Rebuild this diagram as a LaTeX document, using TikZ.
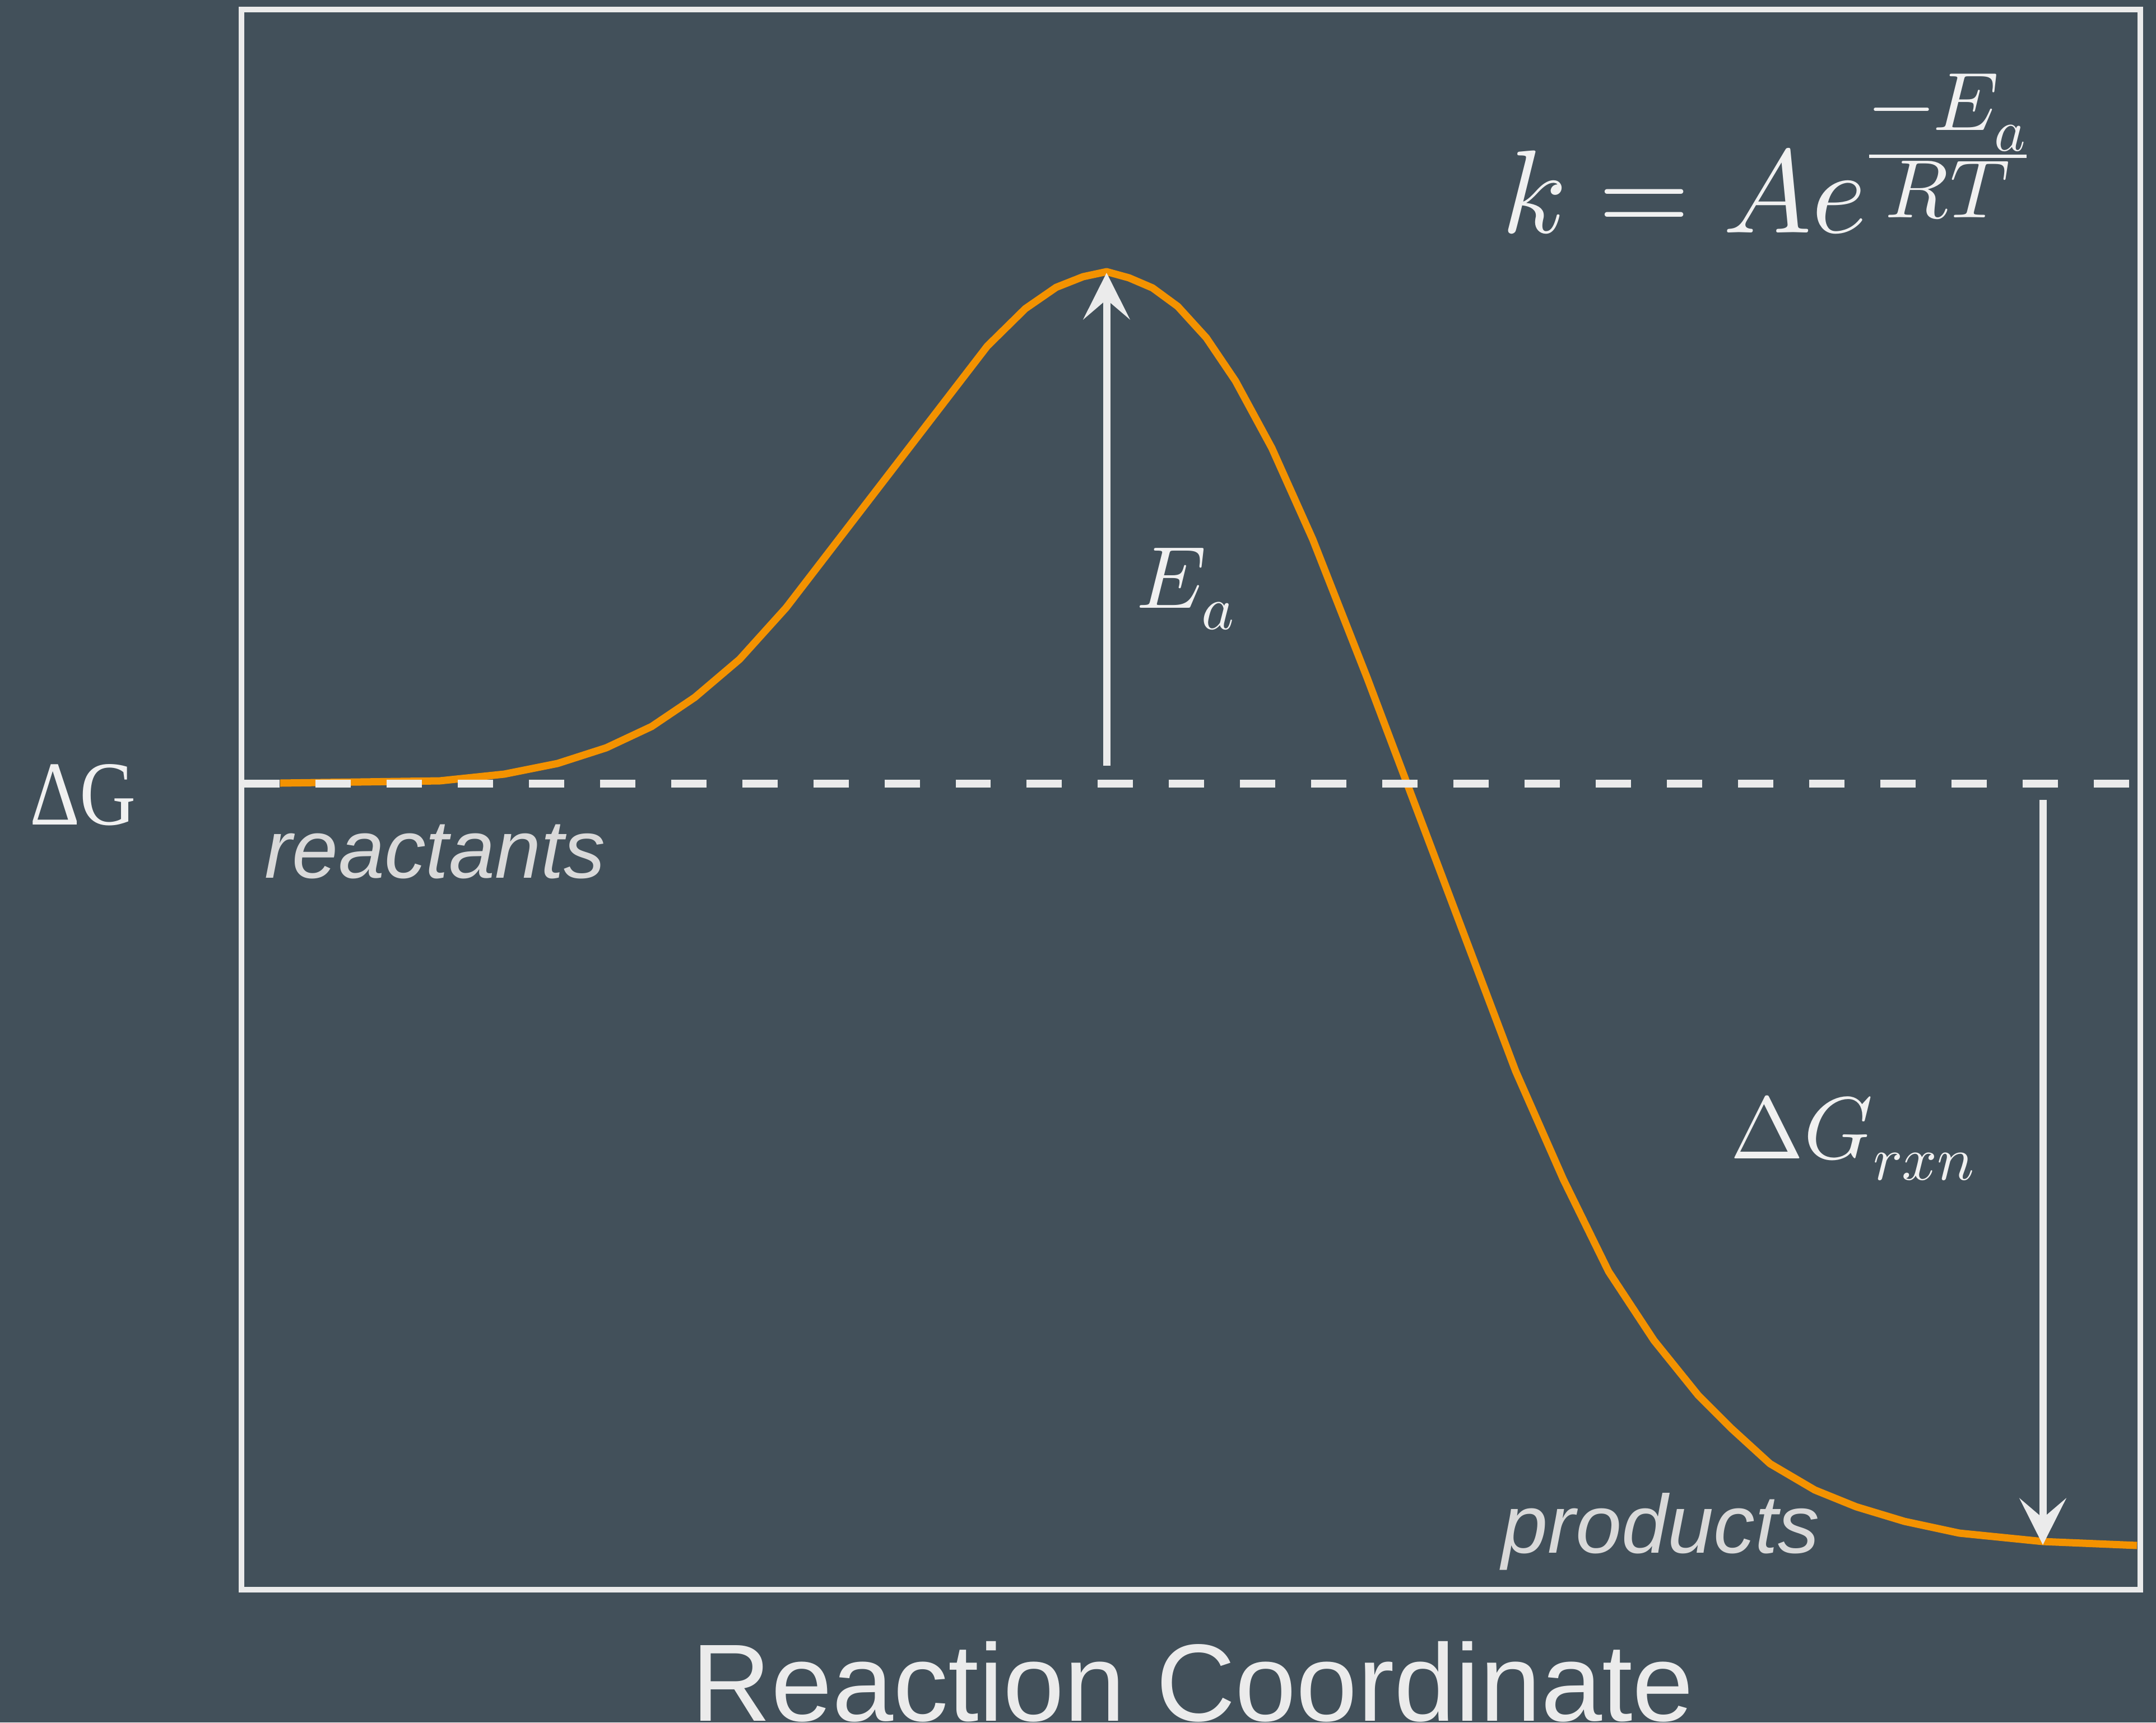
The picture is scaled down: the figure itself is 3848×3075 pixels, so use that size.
\documentclass[tikz,border=0pt]{standalone}
\usepackage{fontspec}
\usepackage{unicode-math}
\setmainfont{Liberation Serif}
\setsansfont{Liberation Sans}
\usetikzlibrary{arrows.meta}

\definecolor{slate}{RGB}{66,80,90}
\definecolor{frameGray}{RGB}{235,235,235}
\definecolor{labelGray}{RGB}{217,217,217}
\definecolor{mathWhite}{RGB}{240,240,240}
\definecolor{barrier}{RGB}{243,146,0}

\begin{document}
\begin{tikzpicture}[
    x=0.01cm, y=-0.01cm,
    plot box/.style={draw=frameGray, line width=2.85pt},
    energy curve/.style={draw=barrier, line width=3.7pt, line join=round},
    start level/.style={draw=frameGray, line width=4pt, dash pattern=on 17.9pt off 18.2pt},
    gap arrow/.style={draw=frameGray, line width=3.7pt, -{Stealth[length=23.6pt, width=23.6pt, inset=10pt]}},
    eq text/.style={text=mathWhite, inner sep=0pt, font=\fontsize{44.7}{50}\selectfont},
    state text/.style={text=labelGray, inner sep=0pt, font=\fontsize{42}{48}\selectfont\sffamily\itshape}
]

% Background and frame
\path[use as bounding box, fill=slate] (0,0) rectangle (3848,3075);
\draw[plot box] (431,17) rectangle (3820,2838);

% Reaction profile
\draw[energy curve] plot coordinates {
    (500,1398) (785,1394) (900,1382) (995,1363) (1082,1335) (1163,1297)
    (1240,1245) (1320,1177) (1403,1085) (1762,618) (1830,551) (1885,513)
    (1933,494) (1975,485) (2015,496) (2057,514) (2102,547) (2153,603)
    (2205,680) (2270,800) (2343,963) (2440,1210) (2705,1912) (2790,2105)
    (2871,2270) (2952,2393) (3031,2491) (3090,2550) (3159,2613) (3239,2660)
    (3313,2690) (3399,2716) (3497,2737) (3646,2752) (3814,2759)};

% Reactant level
\coordinate (levelL) at (436,1399);
\coordinate (levelR) at (3802,1399);
\draw[start level] (levelL) -- (levelR);

% Arrows
\coordinate (eaBase) at (1975,1367);
\coordinate (peak) at (1975,487);
\coordinate (rxnTop) at (3646,1428);
\coordinate (rxnEnd) at (3646,2758);
\draw[gap arrow] (eaBase) -- (peak);
\draw[gap arrow] (rxnTop) -- (rxnEnd);

% Labels
\node[eq text, anchor=base west] (ea) at (2028,1085) {$E_a$};
\node[eq text, anchor=base west] (dgrxn) at (3088,2068) {$\Delta G_{rxn}$};
\node[eq text, anchor=base west, font=\fontsize{60}{70}\selectfont] (rate) at (2680,415)
    {$k = Ae^{\frac{\scriptstyle -E_a}{\scriptstyle RT}}$};
\node[state text, anchor=base west] (reactants) at (472,1567) {reactants};
\node[state text, anchor=base west] (products) at (2680,2772) {products};
\node[text=mathWhite, inner sep=0pt, anchor=base, font=\fontsize{46.4}{52}\selectfont] (ylabel) at (148,1472) {\scalebox{0.85}[1]{ΔG}};
\node[text=frameGray, inner sep=0pt, anchor=base, font=\fontsize{55.8}{62}\selectfont\sffamily] (xlabel) at (2129,3072) {Reaction Coordinate};

\end{tikzpicture}
\end{document}
